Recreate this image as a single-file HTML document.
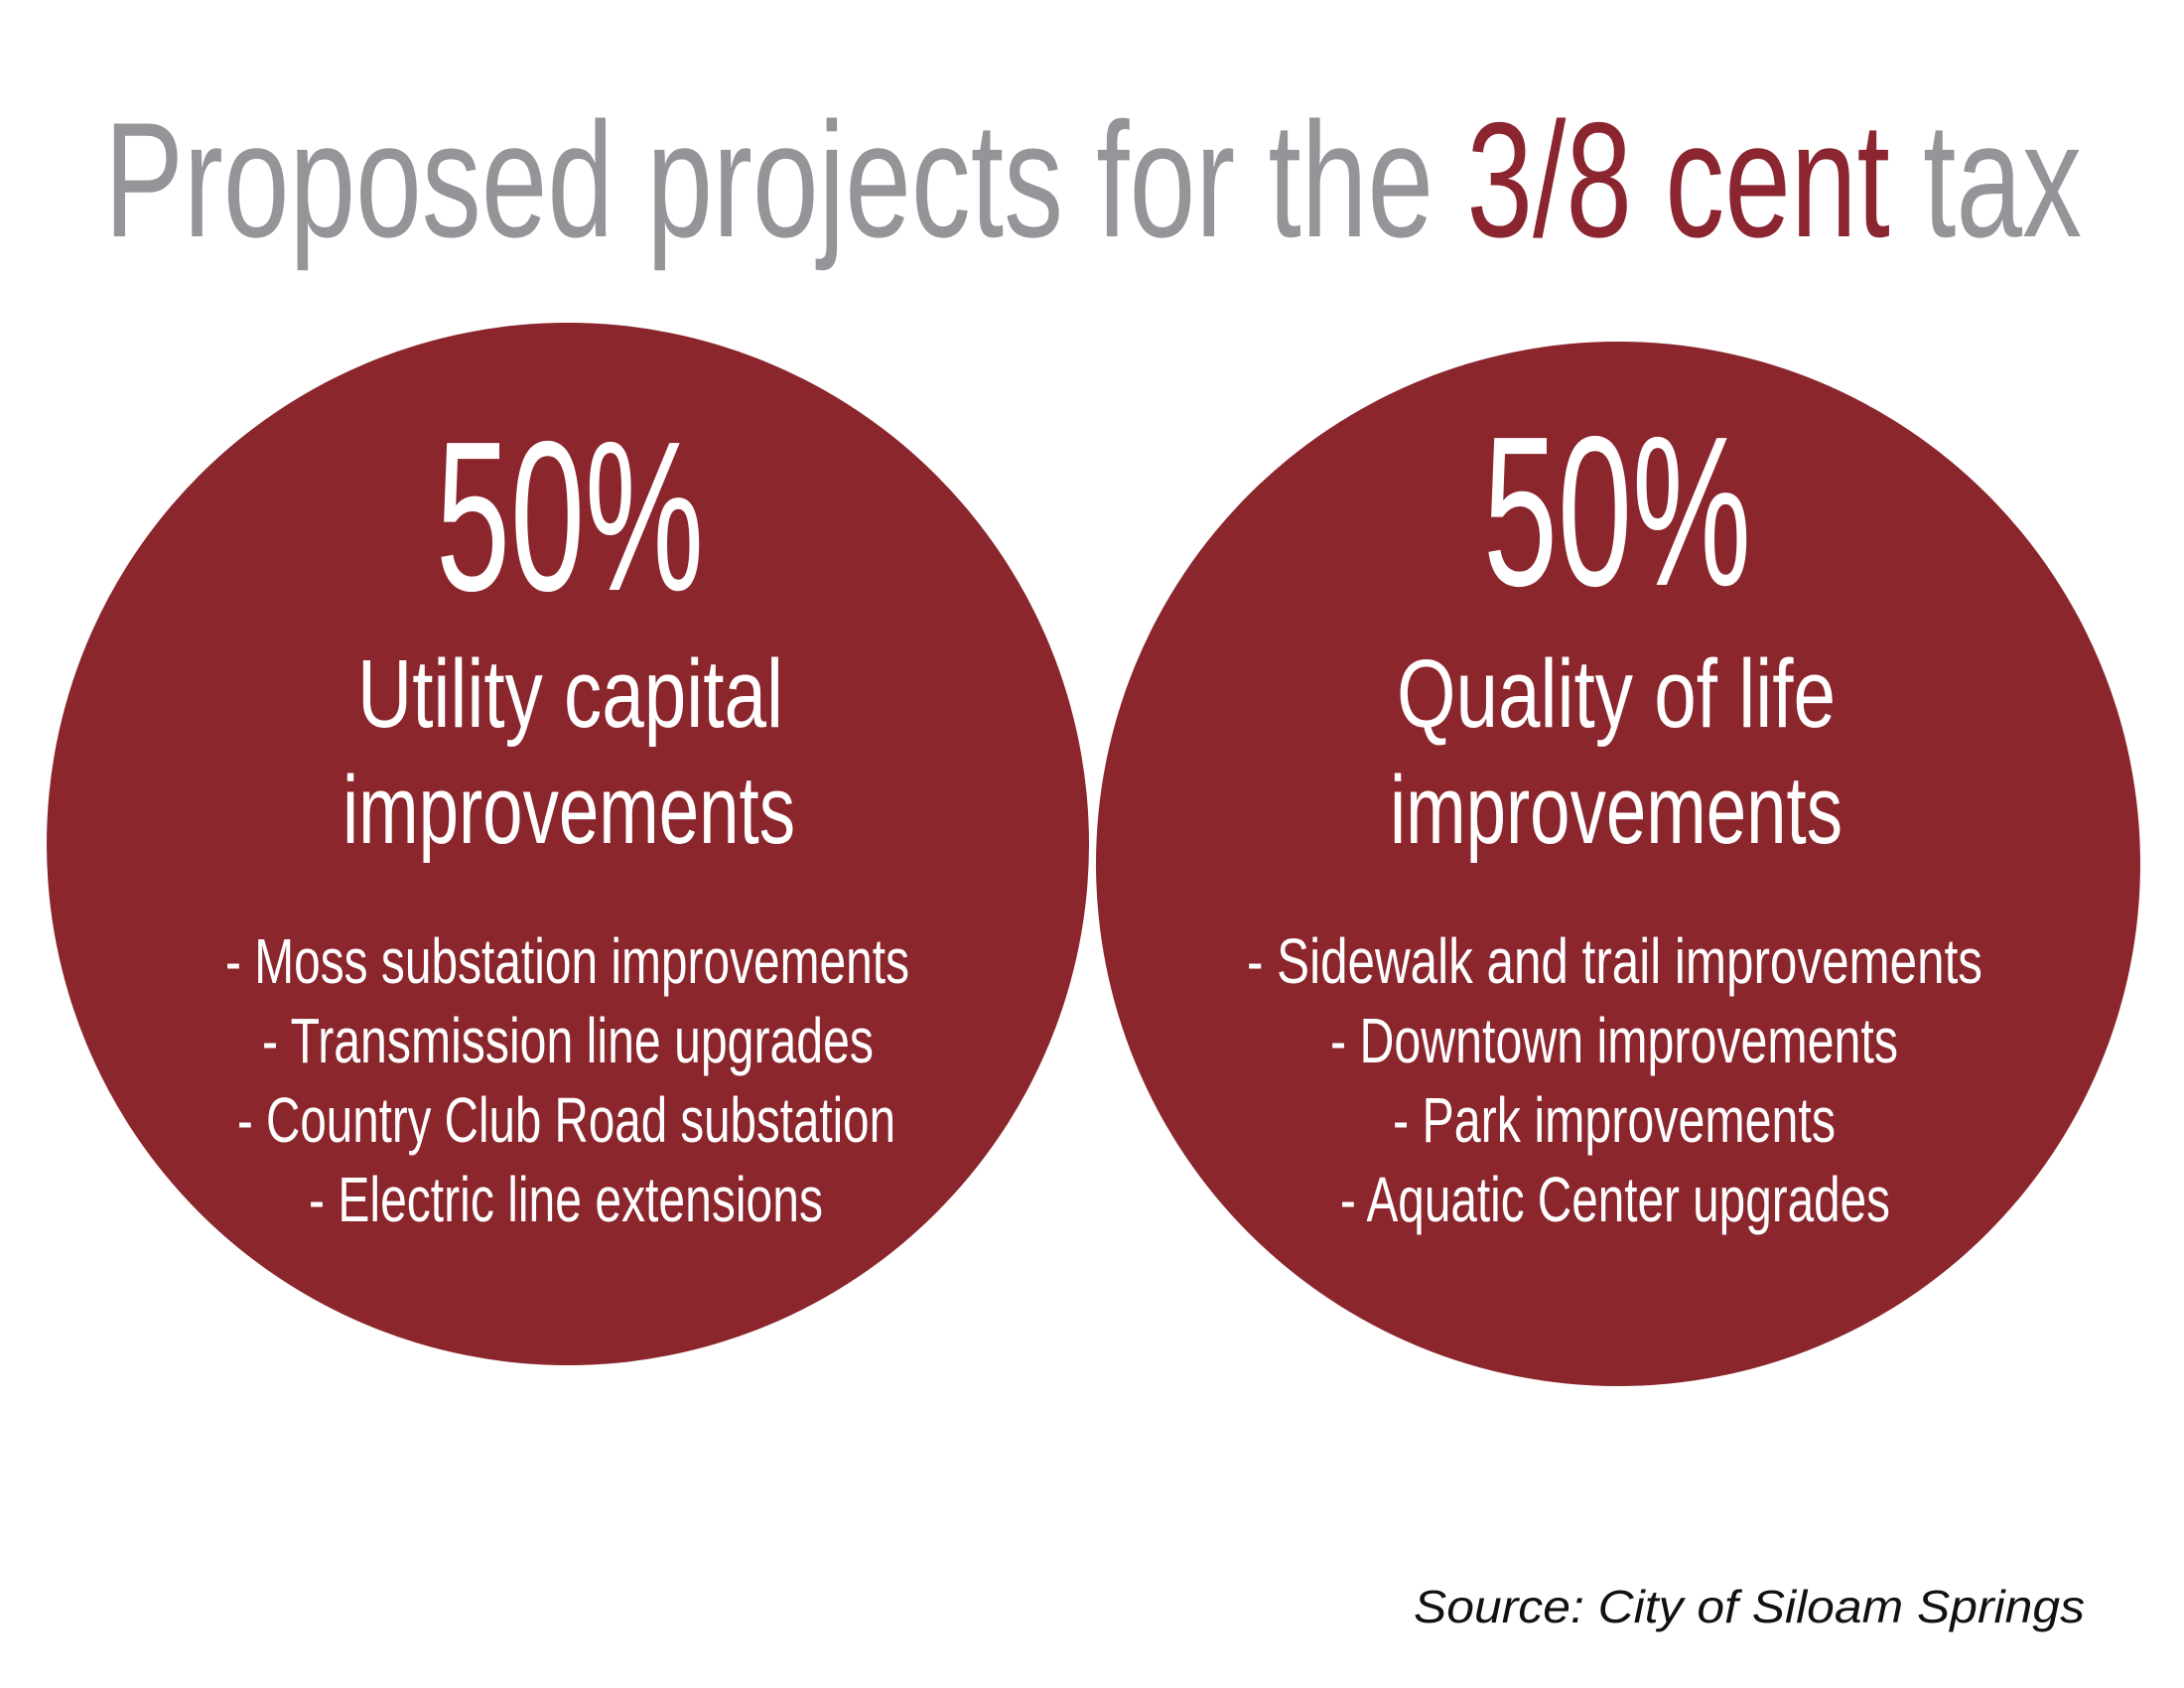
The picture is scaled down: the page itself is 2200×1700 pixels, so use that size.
<!DOCTYPE html>
<html><head><meta charset="utf-8"><style>
html,body{margin:0;padding:0;background:#fff;}
svg{display:block;}
text{font-family:"Liberation Sans Narrow","Liberation Sans",sans-serif;}
</style></head><body>
<svg width="2200" height="1700" viewBox="0 0 2200 1700">
<text x="105" y="238" font-size="165" textLength="1992" lengthAdjust="spacingAndGlyphs" fill="#939598">Proposed projects for the <tspan fill="#8b2630">3/8 cent</tspan> tax</text>

<circle cx="572" cy="850" r="525" fill="#8b262d"/>
<circle cx="1630" cy="870" r="526" fill="#8b262d"/>

<g fill="#fff">
<text x="439" y="594" font-size="215" textLength="270" lengthAdjust="spacingAndGlyphs">50%</text>
<text x="360" y="732" font-size="97" textLength="429" lengthAdjust="spacingAndGlyphs">Utility capital</text>
<text x="345" y="849" font-size="97" textLength="456" lengthAdjust="spacingAndGlyphs">improvements</text>
<text x="227" y="990" font-size="64" textLength="689" lengthAdjust="spacingAndGlyphs">- Moss substation improvements</text>
<text x="264" y="1070" font-size="64" textLength="616" lengthAdjust="spacingAndGlyphs">- Transmission line upgrades</text>
<text x="239" y="1150" font-size="64" textLength="663" lengthAdjust="spacingAndGlyphs">- Country Club Road substation</text>
<text x="311" y="1230" font-size="64" textLength="518" lengthAdjust="spacingAndGlyphs">- Electric line extensions</text>
</g>

<g fill="#fff">
<text x="1494" y="589" font-size="215" textLength="270" lengthAdjust="spacingAndGlyphs">50%</text>
<text x="1407" y="732" font-size="97" textLength="442" lengthAdjust="spacingAndGlyphs">Quality of life</text>
<text x="1400" y="849" font-size="97" textLength="456" lengthAdjust="spacingAndGlyphs">improvements</text>
<text x="1256" y="990" font-size="64" textLength="741" lengthAdjust="spacingAndGlyphs">- Sidewalk and trail improvements</text>
<text x="1340" y="1070" font-size="64" textLength="572" lengthAdjust="spacingAndGlyphs">- Downtown improvements</text>
<text x="1403" y="1150" font-size="64" textLength="446" lengthAdjust="spacingAndGlyphs">- Park improvements</text>
<text x="1350" y="1230" font-size="64" textLength="554" lengthAdjust="spacingAndGlyphs">- Aquatic Center upgrades</text>
</g>

<text x="1424" y="1634" font-size="46" font-style="italic" textLength="676" lengthAdjust="spacingAndGlyphs" fill="#111" style="font-family:'Liberation Sans',sans-serif">Source: City of Siloam Springs</text>
</svg>
</body></html>
